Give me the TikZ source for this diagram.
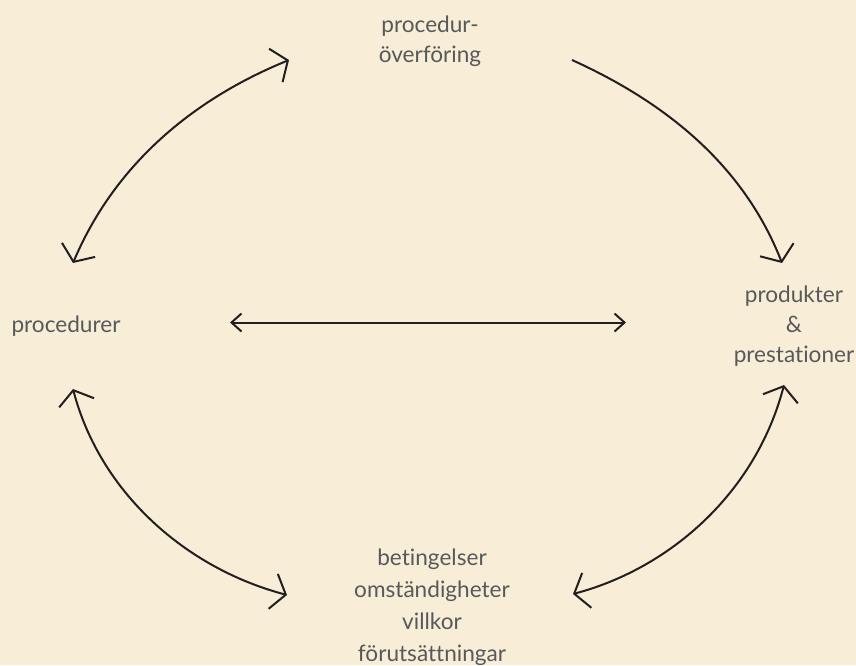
\documentclass[tikz,border=0pt]{standalone}
\usepackage{fontspec}
\setmainfont{Lato}[Ligatures=NoCommon]
\usetikzlibrary{arrows.meta}
\definecolor{bg}{HTML}{F8EDD7}
\definecolor{txt}{HTML}{58595B}
\definecolor{ln}{HTML}{231F20}
\begin{document}
\begin{tikzpicture}[x=1pt,y=-1pt,
  lbl/.style={text=txt, align=center, inner sep=0pt, anchor=base},
  bigtip/.tip={Straight Barb[length=13pt,width=36pt]},
  smalltip/.tip={Straight Barb[length=10pt,width=18pt]},
  conn/.style={draw=ln, line width=2pt}]
\fill[bg] (0,0) rectangle (856,665);
\useasboundingbox (0,0) rectangle (856,665);

\node[lbl, font=\fontsize{22.6}{30}\selectfont] (transfer) at (430,62) {procedur-\\överföring};
\node[lbl, font=\fontsize{22.6}{30}\selectfont] (proc) at (66,332) {procedurer};
\node[lbl, font=\fontsize{22.6}{30}\selectfont] (prod) at (794,362) {produkter\\\&\\prestationer};
\node[lbl, font=\fontsize{22.6}{32}\selectfont] (cond) at (432,661) {betingelser\\omständigheter\\villkor\\förutsättningar};

\coordinate (procN) at (73,263);
\coordinate (procS) at (73,389);
\coordinate (procE) at (230,322.5);
\coordinate (transW) at (289,60);
\coordinate (transE) at (572,60);
\coordinate (prodN) at (782,263);
\coordinate (prodS) at (784,385);
\coordinate (prodW) at (626,322.5);
\coordinate (condW) at (287,595);
\coordinate (condE) at (573,594);

\draw[conn, bigtip-bigtip] (procN) .. controls (114,166) and (191,100) .. (transW);
\draw[conn, -bigtip] (transE) .. controls (667,103) and (744,166) .. (prodN);
\draw[conn, smalltip-smalltip] (procE) -- (prodW);
\draw[conn, bigtip-bigtip] (procS) .. controls (100,492) and (185,568) .. (condW);
\draw[conn, bigtip-bigtip] (condE) .. controls (671,568) and (756,492) .. (prodS);
\end{tikzpicture}
\end{document}
